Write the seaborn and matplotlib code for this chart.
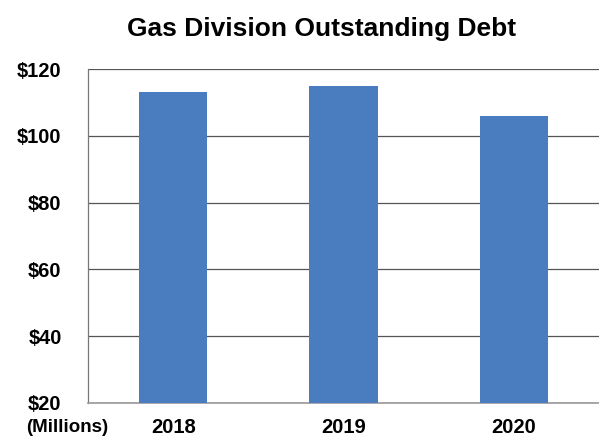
import matplotlib
matplotlib.use("Agg")
import matplotlib.pyplot as plt
import seaborn as sns
import pandas as pd

years = ["2018", "2019", "2020"]
debt = [113, 115, 106]
y_ticks = [20, 40, 60, 80, 100, 120]
y_tick_labels = ["$20", "$40", "$60", "$80", "$100", "$120"]

sns.set_theme(style="white")
plt.rcParams["font.family"] = ["Liberation Sans", "DejaVu Sans"]

df = pd.DataFrame({"year": years, "debt": debt})

fig = plt.figure(figsize=(5.99, 4.38), dpi=100)
ax = fig.add_axes([88 / 599, 1 - 403 / 438, 1 - 88 / 599, (403 - 69) / 438])

sns.barplot(data=df, x="year", y="debt", color="#4a7dc0", saturation=1,
            width=0.4, linewidth=0, ax=ax, zorder=3)

ax.set_ylim(20, 120)
ax.set_xlim(-0.5, 2.5)
ax.set_yticks(y_ticks)
ax.set_yticklabels(y_tick_labels, fontsize=14.5, fontweight="bold", color="black")
ax.set_xticklabels(years, fontsize=14.5, fontweight="bold", color="black")
ax.tick_params(axis="y", length=0, pad=19)
ax.tick_params(axis="x", length=0, pad=10.5)
ax.grid(axis="y", color="#555555", linewidth=0.9, zorder=0)
ax.set_xlabel("")
ax.set_ylabel("")

for side in ["top", "right"]:
    ax.spines[side].set_visible(False)
ax.spines["left"].set_color("#777777")
ax.spines["left"].set_linewidth(0.9)
ax.spines["bottom"].set_color("#999999")
ax.spines["bottom"].set_linewidth(1.2)

fig.text(67 / 599, 1 - 427 / 438, "(Millions)", ha="center", va="center",
         fontsize=13.5, fontweight="bold", color="black")
fig.text(322 / 599, 1 - 29 / 438, "Gas Division Outstanding Debt",
         ha="center", va="center", fontsize=19, fontweight="bold", color="black")

fig.savefig("out.png", dpi=100, facecolor="white")
